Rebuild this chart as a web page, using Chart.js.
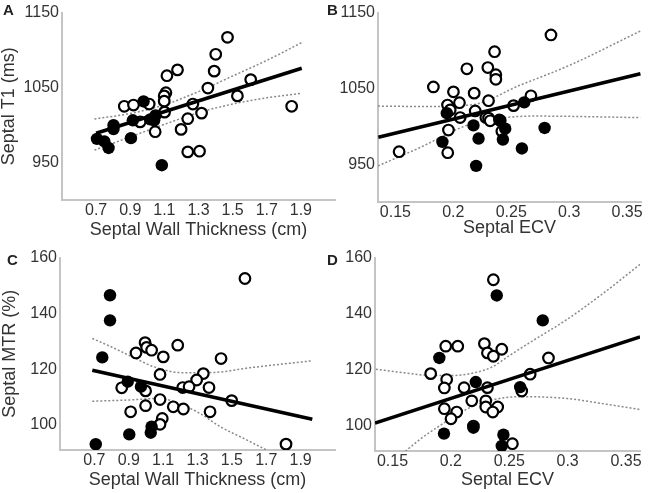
<!DOCTYPE html>
<html>
<head>
<meta charset="utf-8">
<script src="https://cdn.jsdelivr.net/npm/chart.js@4.4.1/dist/chart.umd.min.js"></script>
<style>
body { margin: 0; background: #fff; width: 653px; height: 493px; position: relative; overflow: hidden; font-family: "Liberation Sans", Arial, sans-serif; }
canvas { position: absolute; }
.tag { position: absolute; font-weight: bold; font-size: 15px; color: #222; line-height: 1; }
</style>
</head>
<body>
<canvas id="chartA" width="345" height="245" style="left:0;top:0"></canvas>
<canvas id="chartB" width="323" height="245" style="left:330px;top:0"></canvas>
<canvas id="chartC" width="345" height="248" style="left:0;top:245px"></canvas>
<canvas id="chartD" width="323" height="248" style="left:330px;top:245px"></canvas>
<div class="tag" style="left:3px;top:2px">A</div>
<div class="tag" style="left:327px;top:2px">B</div>
<div class="tag" style="left:7px;top:252px">C</div>
<div class="tag" style="left:327px;top:252px">D</div>
<script>
// tick labels
const xTicksWall = [0.7, 0.9, 1.1, 1.3, 1.5, 1.7, 1.9];
const xTicksEcv = [0.15, 0.2, 0.25, 0.3, 0.35];
const yTicksT1 = [950, 1050, 1150];
const yTicksMtr = [100, 120, 140, 160];

// A: septal T1 vs wall thickness
const aOpen = [[1.470,1117],[1.401,1094.4],[1.177,1073.6],[1.115,1065.8],[1.392,1071.9],[1.606,1060.6],
  [1.355,1049.3],[1.109,1043.2],[1.099,1038.9],[1.099,1031.9],[1.528,1038.9],[1.846,1025],[0.865,1025],
  [0.919,1026.7],[1.011,1028],[1.267,1028],[1.318,1015.9],[1.101,1017.2],[1.237,1008.5],[0.958,1004.2],
  [1.198,994.2],[1.046,991.1],[1.237,964.2],[1.306,965.1]];
const aFilled = [[0.978,1031.5],[1.048,1012.8],[1.017,1007.6],[0.915,1006.3],[0.802,999.8],[0.802,994.6],
  [0.705,981.6],[0.748,978.1],[0.773,969.4],[0.904,982.5],[1.085,946.4],[1.040,1006.3]];
const aFit = [[0.70,989],[1.905,1075.8]];
const aUpper = [[0.69,1008.1],[0.9,1015.4],[1.1,1026.9],[1.3,1044.6],[1.5,1065.4],[1.7,1086.2],[1.905,1110]];
const aLower = [[0.69,966.5],[0.9,984.2],[1.1,1000.9],[1.3,1016.5],[1.5,1028],[1.7,1036.3],[1.905,1042.4]];

// B: septal T1 vs ECV
const bOpen = [[0.2843,1120.5],[0.2356,1098.4],[0.2117,1075.8],[0.2298,1077.5],[0.2367,1068],[0.2367,1061.9],
  [0.1828,1051.9],[0.2001,1045.4],[0.218,1043.7],[0.2304,1033.7],[0.2053,1031.1],[0.195,1028],[0.1973,1021.5],
  [0.2189,1020.2],[0.2059,1011.5],[0.2281,1011.5],[0.2304,1010.7],[0.2318,1007.2],[0.252,1027.2],[0.267,1040.2],
  [0.1958,995],[0.2419,993.3],[0.1532,966.4],[0.1952,965.1],[0.2405,1007.6]];
const bFilled = [[0.1944,1017.2],[0.2396,1008.5],[0.2612,1031.5],[0.2174,1001.1],[0.2448,996.8],[0.2788,997.7],
  [0.1906,979.4],[0.2218,983.8],[0.2428,982.5],[0.2592,970.7],[0.2197,947.7]];
const bFit = [[0.1353,985.5],[0.3615,1069.3]];
const bUpper = [[0.135,1026.6],[0.1716,1026.1],[0.2147,1028],[0.2578,1054.3],[0.301,1080.9],[0.3615,1125.7]];
const bLower = [[0.135,947.7],[0.17,971],[0.2133,1002],[0.245,1011.4],[0.27,1013.4],[0.3615,1011.4]];

// C: septal MTR vs wall thickness
const cOpen = [[1.576,152.5],[1.185,128.6],[0.995,129.5],[1.004,127.8],[1.033,126.8],[0.942,125.8],[1.101,124.4],
  [1.437,123.8],[1.082,118.1],[1.334,118.4],[1.295,116.1],[0.859,113.3],[1.214,113.4],[1.251,113.7],[1.367,113.4],
  [0.998,112.2],[1.499,108.7],[1.082,109.1],[0.998,106.9],[1.159,106.5],[1.218,105.7],[0.911,104.7],[1.373,104.7],
  [1.095,102.3],[1.082,100.2],[1.815,93.1]];
const cFilled = [[0.791,146.5],[0.791,137.5],[0.746,124.2],[0.894,115.5],[0.971,113.7],[1.033,99.4],[1.028,97.2],
  [0.903,96.6],[0.708,93.1]];
const cFit = [[0.688,119.6],[1.968,102]];
const cUpper = [[0.688,131],[0.791,128.2],[0.927,124.2],[1.062,120.5],[1.218,118.7],[1.392,118.8],[1.605,120.5],[1.968,123]];
const cLower = [[0.688,108.5],[0.888,108.9],[1.082,109.5],[1.198,107.5],[1.315,104.1],[1.431,99.4],[1.567,95.2],[1.702,91]];

// D: septal MTR vs ECV
const dOpen = [[0.2364,152.1],[0.2287,129.3],[0.2313,126],[0.2364,124.8],[0.2436,127.3],[0.1956,128.4],[0.2059,128.4],
  [0.1827,118.6],[0.1964,116.5],[0.1944,113.5],[0.2113,113.6],[0.2313,113.6],[0.2179,108.9],[0.2299,108.9],
  [0.2299,106.7],[0.2401,106.7],[0.2359,104.9],[0.1944,106.1],[0.205,104.9],[0.2001,102.5],[0.2836,124.2],
  [0.2679,118.4],[0.2607,112.4],[0.2527,93.6],[0.2193,99.9]];
const dFilled = [[0.2393,146.5],[0.2787,137.6],[0.1901,124.2],[0.2213,115.6],[0.2593,113.8],[0.2193,99.3],
  [0.1941,97.2],[0.245,96.8],[0.2436,92.8]];
const dFit = [[0.135,101],[0.3621,131.7]];
const dUpper = [[0.1357,120.2],[0.16,118.9],[0.18,118],[0.2,117.9],[0.22,118.9],[0.235,120.9],[0.25,125],
  [0.27,130.3],[0.2986,137.7],[0.33,147.1],[0.3621,157.6]];
const dLower = [[0.161,90.9],[0.1743,95.4],[0.19,99.9],[0.205,103.9],[0.22,107.2],[0.235,109.2],[0.26,110.4],
  [0.3,109.7],[0.33,107.9],[0.362,105.8]];

const textColor = '#333';
const axisColor = '#c4c4c4';
const fontFamily = '"Liberation Sans", Arial, sans-serif';

function pts(list) {
  return list.map(p => ({ x: p[0], y: p[1] }));
}

function ciLine(list) {
  return {
    data: pts(list), showLine: true, pointRadius: 0, borderColor: '#8a8a8a', borderWidth: 1.5,
    borderDash: [2, 2], cubicInterpolationMode: 'monotone', order: 3
  };
}

function makePanel(id, p) {
  const ctx = document.getElementById(id).getContext('2d');
  return new Chart(ctx, {
    type: 'scatter',
    data: {
      datasets: [
        { data: pts(p.open), pointRadius: 5.3, pointBorderWidth: 2.2, pointBackgroundColor: '#fff',
          pointBorderColor: '#000', order: 2 },
        { data: pts(p.filled), pointRadius: 6.2, pointBorderWidth: 0, pointBackgroundColor: '#000',
          pointBorderColor: '#000', order: 1 },
        ciLine(p.upper),
        ciLine(p.lower),
        { data: pts(p.fit), showLine: true, pointRadius: 0, borderColor: '#000', borderWidth: 3.5, order: 0 }
      ]
    },
    options: {
      responsive: false,
      animation: false,
      layout: { padding: p.padding },
      plugins: { legend: { display: false }, tooltip: { enabled: false } },
      scales: {
        x: {
          type: 'linear', min: p.xMin, max: p.xMax,
          afterBuildTicks: s => { s.ticks = p.xTicks.map(v => ({ value: v })); },
          afterFit: s => { s.height = p.xHeight; },
          ticks: { color: textColor, font: { family: fontFamily, size: 16 }, padding: 1,
            maxRotation: 0, autoSkip: false, callback: v => String(v) },
          grid: { display: true, color: 'rgba(0,0,0,0)', drawTicks: false },
          border: { display: true, color: axisColor, width: 2 },
          title: { display: true, text: p.xTitle, color: textColor,
            font: { family: fontFamily, size: 18, lineHeight: 1 }, padding: { top: 0, bottom: p.xTitlePad } }
        },
        y: {
          type: 'linear', min: p.yMin, max: p.yMax,
          afterBuildTicks: s => { s.ticks = p.yTicks.map(v => ({ value: v })); },
          afterFit: s => { s.width = p.yWidth; },
          ticks: { color: textColor, font: { family: fontFamily, size: 16 }, padding: 3,
            autoSkip: false, callback: v => String(v) },
          grid: { display: true, color: 'rgba(0,0,0,0)', drawTicks: false },
          border: { display: true, color: axisColor, width: 2 },
          title: { display: !!p.yTitle, text: p.yTitle || '', color: textColor,
            font: { family: fontFamily, size: 18, lineHeight: 1 }, padding: { top: p.yTitlePad || 0, bottom: 0 } }
        }
      }
    }
  });
}

makePanel('chartA', {
  open: aOpen, filled: aFilled, fit: aFit, upper: aUpper, lower: aLower,
  xMin: 0.5, xMax: 2.1, yMin: 900, yMax: 1150, xTicks: xTicksWall, yTicks: yTicksT1,
  padding: { left: 0, right: 10, top: 8, bottom: 0 }, yWidth: 62, xHeight: 45,
  xTitle: 'Septal Wall Thickness (cm)', xTitlePad: 6, yTitle: 'Septal T1 (ms)', yTitlePad: 0
});

makePanel('chartB', {
  open: bOpen, filled: bFilled, fit: bFit, upper: bUpper, lower: bLower,
  xMin: 0.135, xMax: 0.362, yMin: 900, yMax: 1150, xTicks: xTicksEcv, yTicks: yTicksT1,
  padding: { left: 0, right: 12, top: 10, bottom: 0 }, yWidth: 48, xHeight: 43,
  xTitle: 'Septal ECV', xTitlePad: 8
});

makePanel('chartC', {
  open: cOpen, filled: cFilled, fit: cFit, upper: cUpper, lower: cLower,
  xMin: 0.5, xMax: 2.1, yMin: 91, yMax: 160, xTicks: xTicksWall, yTicks: yTicksMtr,
  padding: { left: 0, right: 10, top: 12, bottom: 0 }, yWidth: 60, xHeight: 43,
  xTitle: 'Septal Wall Thickness (cm)', xTitlePad: 4, yTitle: 'Septal MTR (%)', yTitlePad: 1.5
});

makePanel('chartD', {
  open: dOpen, filled: dFilled, fit: dFit, upper: dUpper, lower: dLower,
  xMin: 0.135, xMax: 0.362, yMin: 91, yMax: 160, xTicks: xTicksEcv, yTicks: yTicksMtr,
  padding: { left: 0, right: 13, top: 12, bottom: 0 }, yWidth: 45, xHeight: 42,
  xTitle: 'Septal ECV', xTitlePad: 4
});
</script>
</body>
</html>
